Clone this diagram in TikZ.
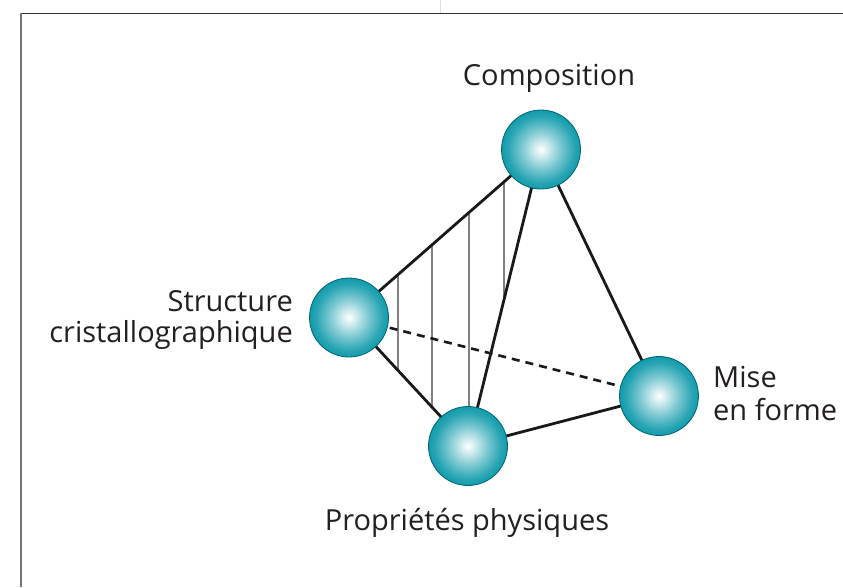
\documentclass[tikz,border=0pt]{standalone}
\usepackage{fontspec}
\setmainfont{Open Sans}
\usetikzlibrary{backgrounds}
\definecolor{teal0}{RGB}{0,148,166}
\definecolor{tealedge}{RGB}{0,100,112}
\definecolor{txt}{RGB}{35,31,32}
\pgfdeclareradialshading{spherebl}{\pgfpoint{0bp}{0bp}}{%
  color(0bp)=(white);
  color(3bp)=(white!88!teal0);
  color(12bp)=(white!50!teal0);
  color(21bp)=(white!16!teal0);
  color(28bp)=(teal0);
  color(50bp)=(teal0)}
\tikzset{
  ball/.style={circle, minimum size=79pt, inner sep=0pt, shading=spherebl, draw=tealedge, line width=0.8pt},
  edge/.style={line width=2.8pt, black!90},
  hidden/.style={line width=2.6pt, black!90, dash pattern=on 8pt off 6pt},
  hatch/.style={line width=1.3pt, black!50},
  lbl/.style={font=\fontsize{29}{35}\selectfont, text=txt, inner sep=0pt},
}
\begin{document}
\begin{tikzpicture}[x=1pt,y=-1pt]
\useasboundingbox (0,0) rectangle (843,587);
% frame
\draw[black!12, line width=1pt] (440,0) -- (440,13);
\draw[black!80, line width=1.6pt] (20,13.5) -- (843,13.5);
\draw[black!55, line width=1.8pt] (21,13) -- (21,587);
% spheres
\node[ball] (C) at (541,149.5) {};
\node[ball] (S) at (349,317.5) {};
\node[ball] (P) at (468,446) {};
\node[ball] (M) at (659,396) {};
% connectors
\begin{scope}[on background layer]
  \begin{scope}
    \clip (S.center) -- (C.center) -- (P.center) -- cycle;
    \foreach \xx in {398,432,469,504}
      \draw[hatch] (\xx,100) -- (\xx,500);
  \end{scope}
  \draw[hidden] (S.center) -- (M.center);
  \draw[edge] (S.center) -- (C.center);
  \draw[edge] (S.center) -- (P.center);
  \draw[edge] (P.center) -- (C.center);
  \draw[edge] (C.center) -- (M.center);
  \draw[edge] (P.center) -- (M.center);
\end{scope}
% labels
\node[lbl, anchor=base] (tC) at (549,85) {Composition};
\node[lbl, anchor=base east] (tS1) at (293,311) {Structure};
\node[lbl, anchor=base east] (tS2) at (293,342) {cristallographique};
\node[lbl, anchor=base west] (tM1) at (713,387) {Mise};
\node[lbl, anchor=base west] (tM2) at (713,420) {en forme};
\node[lbl, anchor=base] (tP) at (467,530) {Propriétés physiques};
\end{tikzpicture}
\end{document}
